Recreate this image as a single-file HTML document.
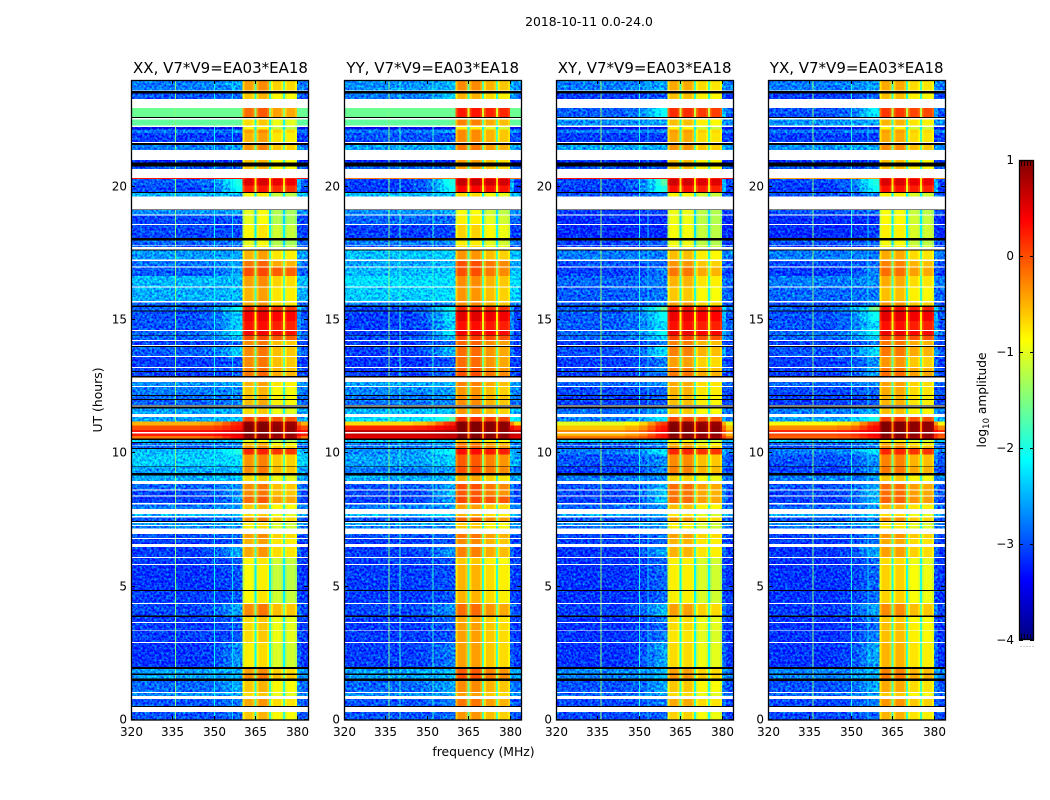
<!DOCTYPE html>
<html><head><meta charset="utf-8"><title>2018-10-11 dynamic spectra</title>
<style>
html,body{margin:0;padding:0;background:#fff}
svg{display:block}
text{font-family:"DejaVu Sans","Liberation Sans",sans-serif;fill:#000}
</style></head>
<body>
<svg id="chart" width="1050" height="800" viewBox="0 0 1050 800" xmlns="http://www.w3.org/2000/svg">
<defs>
<filter id="speckle" x="0" y="0" width="100%" height="100%" color-interpolation-filters="sRGB">
<feTurbulence type="fractalNoise" baseFrequency="0.42" numOctaves="2" seed="7" result="n"/>
<feColorMatrix in="n" type="matrix" values="0 0 0 0 .5  1 0 0 0 0  0 0 0 0 .5  0 0 0 0 1" result="g"/>
<feComposite in="SourceGraphic" in2="g" operator="arithmetic" k1="0" k2="1" k3="1.4" k4="-0.7" result="m"/>
<feComposite in="m" in2="SourceAlpha" operator="in"/>
</filter>
</defs>
<text x="589" y="26" font-size="12.4" text-anchor="middle">2018-10-11 0.0-24.0</text>
<text x="483.5" y="756" font-size="12.4" text-anchor="middle">frequency (MHz)</text>
<text transform="translate(102,400) rotate(-90)" font-size="12.4" text-anchor="middle">UT (hours)</text>
<text transform="translate(986,400) rotate(-90)" font-size="12.2" text-anchor="middle">log<tspan font-size="8.5" dy="3">10</tspan><tspan dy="-3"> amplitude</tspan></text>
<g id="panels"></g>
<g id="cbar"></g>
</svg>
<script>
// UT hour ranges of every recorded band, top of the plot to the bottom
const bandRanges=[[23.61,24],[23.29,23.49],[22.62,22.95],[22.29,22.52],[22.14,22.23],[22.01,22.14],[21.68,22.01],[21.38,21.57],[20.90,21.00],[20.66,20.76],
[20.29,20.33],[20.05,20.29],[19.80,20.05],[19.64,19.76],[18.95,19.13],[18.60,18.91],[18.08,18.56],[17.82,17.99],[17.73,17.79],[17.26,17.60],
[17.01,17.22],[16.65,16.97],[16.26,16.65],[15.71,16.22],[15.54,15.66],[15.35,15.48],[14.97,15.31],[14.63,14.97],[14.44,14.59],[14.25,14.41],
[14.06,14.21],[13.65,13.98],[13.24,13.61],[13.09,13.20],[12.90,13.05],[12.53,12.68],[12.19,12.49],[12.04,12.15],[11.82,12.00],[11.48,11.69],
[11.20,11.36],[11.04,11.20],[10.88,11.04],[10.80,10.88],[10.65,10.75],[10.56,10.65],[10.43,10.50],[10.32,10.38],[10.20,10.29],[9.95,10.16],
[9.51,9.95],[9.26,9.49],[8.97,9.16],[8.65,8.85],[8.42,8.60],[8.13,8.38],[7.91,8.09],[7.65,7.73],[7.46,7.60],[7.31,7.39],
[7.19,7.28],[6.83,6.98],[6.60,6.79],[6.11,6.49],[5.85,6.08],[4.88,5.81],[4.39,4.84],[3.91,4.35],[3.68,3.87],[3.36,3.64],
[2.93,3.33],[1.99,2.89],[1.75,1.91],[1.55,1.69],[1.05,1.47],[0.90,1.01],[0.53,0.79],[0,0.30]];
// Black (zero amplitude) UT ranges, common to all panels
const blackBands=[[23.49,23.58],[22.58,22.62],[21.57,21.64],[20.76,20.90],[19.76,19.80],[19.13,19.15],[17.99,18.08],[17.60,17.64],[15.48,15.54],[15.31,15.35],
[14.41,14.44],[13.98,14.03],[13.05,13.09],[12.85,12.90],[12.15,12.19],[12.00,12.04],[11.69,11.76],[11.80,11.82],[10.50,10.56],[10.38,10.43],
[10.16,10.20],[9.49,9.51],[9.16,9.26],[7.43,7.46],[4.84,4.88],[3.87,3.91],[1.91,1.99],[1.69,1.75],[1.47,1.55],[0.49,0.53]];
// log10 amplitude per band: [background 320-345 MHz, shoulder 356-360 MHz, band-pass blocks]
const xxLevels=[[-2.6,-2.4,-.4],[-2.8,-2.7,-.6],[-1.6,-1.6,-.15],[-1.65,-1.65,-.7],[-3.3,-3.3,-.9],[-2.6,-2.5,-.4],[-2.9,-2.9,-.5],[-2.6,-2.5,-.35],[-3,-3,-.6],[-2.8,-2.8,-.6],
[.3,.3,.3],[-2.75,-1.8,.55],[-2.85,-1.9,.25],[-2.3,-2.3,-.9],[-2.5,-2.4,-1],[-2.85,-2.8,-1],[-2.85,-2.85,-.85],[-2.7,-2.6,-1],[-2.8,-2.8,-.9],[-2.45,-2.4,-.5],
[-2.6,-2.4,-.2],[-2.75,-2.4,0],[-2.3,-2.3,-.4],[-2.35,-2.3,-.5],[-2.7,-2.6,-.45],[-2.7,-1.9,.2],[-2.8,-2.2,.45],[-2.8,-2.2,.3],[-2.7,-2,.4],[-2.7,-2.3,0],
[-2.9,-2.7,-.3],[-2.75,-2.2,-.3],[-2.9,-2.8,-.3],[-2.85,-2.7,-.25],[-2.9,-2.8,-.2],[-2.5,-2.4,-.5],[-2.6,-2.5,-.6],[-2.7,-2.6,-.55],[-2.7,-2.6,-.55],[-2.4,-2.35,-.7],
[-2.4,-2.2,.05],[-.5,.2,.95],[0,.3,1],[.3,.6,1],[.25,.5,1],[-.2,.4,.9],[-2.2,-2.2,-1],[-2.6,-2.5,-.6],[-2.7,-2.6,-.4],[-2.3,-1.8,.2],
[-2.2,-2.1,-.35],[-2.4,-2.3,-.3],[-2.35,-2.3,-.7],[-2.7,-2.5,-.3],[-2.85,-2.5,-.3],[-2.9,-2.5,-.15],[-2.6,-2.5,-.6],[-2.3,-2.2,-.7],[-2.8,-2.6,-.35],[-2.4,-2.3,-.8],
[-2.6,-2.5,-.8],[-2.8,-2.7,-.4],[-2.9,-2.8,-.5],[-2.9,-2.4,-.45],[-2.9,-2.8,-.85],[-2.95,-2.8,-.9],[-2.9,-2.8,-.85],[-2.85,-2.4,-.3],[-2.9,-2.7,-.7],[-2.9,-2.8,-.7],
[-2.9,-2.8,-.7],[-2.95,-2.5,-.8],[-2.4,-2.3,-.4],[-2.4,-2.3,-.3],[-2.7,-2.4,-.6],[-2.5,-2.4,-.7],[-2.8,-2.6,-.45],[-2.8,-2.7,-.6]];
const yyLevels=[[-2.5,-2.3,-.4],[-2.6,-2.2,-.6],[-1.6,-1.6,.25],[-1.65,-1.65,-.35],[-3.3,-3.3,-.9],[-2.6,-2.4,-.4],[-2.8,-2.8,-.4],[-2.4,-2.3,-.3],[-3,-3,-.5],[-2.7,-2.7,-.5],
[-.2,-.2,.3],[-2.9,-1.8,.65],[-2.9,-1.9,.35],[-2.3,-2.3,-.8],[-2.5,-2.4,-1],[-2.7,-2.7,-.9],[-2.9,-2.85,-.75],[-2.6,-2.5,-.9],[-2.8,-2.8,-.8],[-2.25,-2.2,-.45],
[-2.4,-2.3,-.1],[-2.3,-2.2,-.1],[-2.1,-2.1,-.4],[-2.2,-2.1,-.45],[-2.6,-2.5,-.4],[-2.85,-1.9,.2],[-2.9,-2.1,.5],[-2.9,-2.2,.3],[-2.9,-2,.4],[-2.85,-2.3,.05],
[-2.9,-2.7,-.2],[-2.9,-2.3,-.25],[-2.95,-2.8,-.25],[-2.9,-2.6,-.15],[-2.9,-2.7,-.1],[-2.4,-2.3,-.35],[-2.55,-2.4,-.45],[-2.65,-2.5,-.4],[-2.65,-2.5,-.4],[-2.3,-2.25,-.45],
[-2.1,-1.7,.1],[-.7,.2,1],[.2,.5,1],[.7,.8,1],[.6,.7,1],[.5,.6,.95],[-2.2,-2.2,-.7],[-2.6,-2.4,-.35],[-2.6,-2.5,-.2],[-2.5,-1.9,.3],
[-2.4,-2.2,-.15],[-2.6,-2.4,-.1],[-2.4,-2.3,-.55],[-2.8,-2.4,-.1],[-2.85,-2.3,-.15],[-2.9,-2.4,0],[-2.6,-2.5,-.5],[-2.3,-2.2,-.6],[-2.8,-2.6,-.2],[-2.4,-2.3,-.7],
[-2.6,-2.5,-.7],[-2.8,-2.7,-.3],[-2.9,-2.8,-.4],[-2.9,-2.5,-.35],[-2.9,-2.8,-.7],[-2.9,-2.8,-.6],[-2.9,-2.8,-.6],[-2.85,-2.5,-.25],[-2.9,-2.7,-.55],[-2.9,-2.8,-.5],
[-2.9,-2.8,-.5],[-2.9,-2.6,-.5],[-2.4,-2.3,-.15],[-2.4,-2.3,-.1],[-2.7,-2.4,-.4],[-2.5,-2.4,-.5],[-2.8,-2.6,-.3],[-2.8,-2.7,-.45]];
const xyLevels=[[-2.6,-2.4,-.5],[-2.9,-2.8,-.6],[-2.75,-1.9,.15],[-2.5,-2.4,-.6],[-3.3,-3.3,-.9],[-2.6,-2.5,-.45],[-2.9,-2.9,-.5],[-2.4,-2.35,-.4],[-3,-3,-.6],[-2.8,-2.8,-.6],
[.3,.3,.3],[-2.85,-1.7,.6],[-2.9,-1.8,.3],[-2.8,-2.6,-.9],[-2.9,-2.9,-1],[-3,-3,-1],[-3,-3,-.95],[-2.9,-2.7,-1],[-2.9,-2.8,-.9],[-2.6,-2.6,-.6],
[-2.8,-2.7,-.4],[-2.9,-2.6,-.25],[-2.7,-2.6,-.55],[-2.75,-2.6,-.65],[-2.8,-2.5,-.45],[-2.7,-1.6,.3],[-2.75,-1.9,.45],[-2.75,-2.1,.3],[-2.7,-1.9,.45],[-2.7,-2.2,.05],
[-2.9,-2.6,-.3],[-2.8,-2.1,-.3],[-2.9,-2.6,-.45],[-2.85,-2.5,-.3],[-2.9,-2.6,-.25],[-2.7,-2.5,-.5],[-2.85,-2.7,-.55],[-2.9,-2.8,-.6],[-2.9,-2.8,-.6],[-2.7,-2.4,-.65],
[-2.6,-2,0],[-1,.1,.95],[-.6,.3,1],[-.3,.4,1],[-.5,.3,1],[-.2,.3,.9],[-2.2,-2.2,-.9],[-2.7,-2.5,-.6],[-2.8,-2.6,-.4],[-2.6,-2,.2],
[-2.8,-2.5,-.35],[-2.9,-2.5,-.3],[-2.6,-2.5,-.7],[-2.8,-2.3,-.2],[-2.85,-2.2,-.25],[-2.9,-2.2,-.2],[-2.7,-2.5,-.6],[-2.4,-2.3,-.8],[-2.8,-2.6,-.45],[-2.5,-2.3,-.85],
[-2.7,-2.5,-.85],[-2.85,-2.6,-.45],[-2.9,-2.7,-.55],[-2.95,-2.4,-.55],[-2.95,-2.7,-.85],[-2.95,-2.7,-.85],[-2.95,-2.7,-.85],[-2.9,-2.3,-.45],[-2.95,-2.6,-.75],[-2.95,-2.7,-.75],
[-2.95,-2.6,-.8],[-2.95,-2.4,-.75],[-2.55,-2.3,-.45],[-2.55,-2.3,-.4],[-2.8,-2.4,-.65],[-2.7,-2.4,-.75],[-2.85,-2.6,-.5],[-2.85,-2.7,-.7]];
const yxLevels=[[-2.6,-2.4,-.5],[-2.9,-2.8,-.6],[-2.8,-2,.1],[-2.5,-2.4,-.55],[-3.3,-3.3,-.9],[-2.6,-2.5,-.45],[-2.9,-2.9,-.5],[-2.5,-2.4,-.35],[-3,-3,-.6],[-2.8,-2.8,-.6],
[-.4,-.4,.3],[-2.85,-1.8,.55],[-2.9,-1.9,.3],[-2.8,-2.6,-.85],[-2.8,-2.7,-.95],[-3,-3,-.9],[-3,-2.9,-.85],[-2.8,-2.7,-.95],[-2.9,-2.8,-.85],[-2.6,-2.6,-.5],
[-2.8,-2.7,-.3],[-2.9,-2.6,-.2],[-2.6,-2.5,-.5],[-2.7,-2.6,-.6],[-2.8,-2.5,-.4],[-2.7,-1.5,.3],[-2.8,-1.9,.5],[-2.8,-2.1,.3],[-2.7,-1.9,.45],[-2.7,-2.2,.05],
[-2.9,-2.6,-.25],[-2.8,-2.1,-.25],[-2.9,-2.5,-.4],[-2.85,-2.4,-.25],[-2.9,-2.5,-.2],[-2.7,-2.5,-.45],[-2.85,-2.7,-.5],[-2.9,-2.8,-.55],[-2.9,-2.8,-.55],[-2.6,-2.4,-.6],
[-2.4,-1.8,.05],[-.9,.15,1],[-.3,.35,1],[.2,.5,1],[0,.4,1],[-.1,.3,.9],[-2.2,-2.2,-.85],[-2.7,-2.5,-.55],[-2.8,-2.6,-.35],[-2.6,-2,.2],
[-2.8,-2.5,-.3],[-2.9,-2.5,-.25],[-2.6,-2.5,-.65],[-2.8,-2.4,-.2],[-2.85,-2.3,-.2],[-2.9,-2.3,-.15],[-2.7,-2.5,-.55],[-2.4,-2.3,-.75],[-2.8,-2.6,-.4],[-2.5,-2.3,-.8],
[-2.7,-2.5,-.8],[-2.85,-2.6,-.4],[-2.9,-2.7,-.5],[-2.95,-2.4,-.45],[-2.95,-2.7,-.75],[-2.95,-2.7,-.7],[-2.95,-2.7,-.7],[-2.9,-2.4,-.35],[-2.95,-2.6,-.65],[-2.95,-2.7,-.6],
[-2.95,-2.6,-.6],[-2.95,-2.4,-.55],[-2.55,-2.3,-.3],[-2.55,-2.3,-.25],[-2.8,-2.4,-.5],[-2.7,-2.4,-.65],[-2.85,-2.6,-.4],[-2.85,-2.7,-.55]];
// Relative level of the four band-pass blocks per panel
const xxBlockTilt=[0,.1,-.25,-.3];
const yyBlockTilt=[.1,.1,-.1,-.2];
const xyBlockTilt=[.05,.05,-.2,-.25];
const yxBlockTilt=[.05,.05,-.2,-.25];
// Narrow interference channels per panel: [MHz, log10 amplitude]
const xxRfi=[[335.9,-1.5],[350,-2.1],[356.5,-2.3]];
const yyRfi=[[336,-1.5],[340,-1.9],[352,-1.9]];
const xyRfi=[[336,-1.4],[350,-2],[353,-2.4]];
const yxRfi=[[336,-1.5],[350,-2],[356,-2.3]];
const panelTitles=["XX, V7*V9=EA03*EA18","YY, V7*V9=EA03*EA18","XY, V7*V9=EA03*EA18","YX, V7*V9=EA03*EA18"];
const panelKeys=["xx","yy","xy","yx"];
const xTicks=[320,335,350,365,380];
const yTicks=[0,5,10,15,20];
const colorTicks=[1,0,-1,-2,-3,-4];

const NS="http://www.w3.org/2000/svg";
const panelLevels=[xxLevels,yyLevels,xyLevels,yxLevels];
const panelTilts=[xxBlockTilt,yyBlockTilt,xyBlockTilt,yxBlockTilt];
const panelRfi=[xxRfi,yyRfi,xyRfi,yxRfi];
const panelLefts=[131,344,556,768];
const PW=177,PT=80,PB=720,FMIN=320,FMAX=384,UTMAX=24,BG_BIAS=-.18;
const xScale=(left,f)=>left+(f-FMIN)/(FMAX-FMIN)*PW;
const yScale=h=>PB-h/UTMAX*(PB-PT);
function jet(v){
  const t=Math.min(1,Math.max(0,(v+4)/5));
  const c=f=>Math.round(255*Math.min(1,Math.max(0,f)));
  return `rgb(${c(Math.min(4*t-1.5,-4*t+4.5))},${c(Math.min(4*t-.5,-4*t+3.5))},${c(Math.min(4*t+.5,-4*t+2.5))})`;
}
function mk(tag,attrs,parent){
  const el=document.createElementNS(NS,tag);
  for(const k in attrs)el.setAttribute(k,attrs[k]);
  parent.appendChild(el);
  return el;
}
// Spectral bins: [start MHz, end MHz, role, weight]
const spectralBins=[
[320,345,'bg',0],[345,350,'bg',.12],[350,353,'bg',.3],[353,356,'bg',.6],[356,358,'bg',.9],[358,360.4,'bg',1],
[360.4,361.1,'blk0',-.3],[361.1,364,'blk0',0],[364,364.65,'blk0',-.15],[364.65,365.4,'gap',0],
[365.4,366.1,'blk1',-.25],[366.1,369.2,'blk1',0],[369.2,369.9,'blk1',-.15],[369.9,370.6,'gap',0],
[370.6,371.3,'blk2',-.25],[371.3,374.2,'blk2',0],[374.2,374.9,'blk2',-.15],[374.9,375.6,'gap',0],
[375.6,376.3,'blk3',-.25],[376.3,379.3,'blk3',0],[379.3,380,'blk3',-.15],
[380,381.5,'edge',0],[381.5,384,'bg',0]];
const root=document.getElementById('panels');
panelKeys.forEach((key,p)=>{
  const left=panelLefts[p],levels=panelLevels[p],tilt=panelTilts[p],rfi=panelRfi[p];
  const g=mk('g',{},root);
  
  
  const noisy=mk('g',{'shape-rendering':'crispEdges',filter:'url(#speckle)'},g);
  const cells=mk('g',{'shape-rendering':'crispEdges'},g);
  bandRanges.forEach((band,i)=>{
    const [bg,mid,blk]=levels[i];
    const y0=yScale(band[1]),y1=yScale(band[0]);
    spectralBins.forEach(bin=>{
      let v,host=cells;
      if(bin[2]==='bg'){v=bg+(mid-bg)*bin[3];}
      else if(bin[2]==='gap')v=blk-1.3;
      else if(bin[2]==='edge')v=(bg+mid)/2;
      else v=blk+tilt[+bin[2].slice(3)]*(blk<0?1:.3)+bin[3];
      if(v<-1.7&&bin[2]!=='gap')v+=BG_BIAS;
      if(v<-2.1&&bin[2]!=='gap')host=noisy;
      const r=mk('rect',{x:xScale(left,bin[0]),y:y0,width:xScale(left,bin[1])-xScale(left,bin[0]),height:y1-y0,fill:jet(v)},host);
      
      
    });
    rfi.forEach(ch=>{
      if(bg>ch[1])return;
      const r=mk('rect',{x:xScale(left,ch[0]),y:y0,width:1,height:y1-y0,fill:jet(ch[1])},cells);
      
      
    });
  });
  blackBands.forEach(b=>{
    const r=mk('rect',{x:left,y:yScale(b[1]),width:PW,height:yScale(b[0])-yScale(b[1]),fill:'#000'},cells);
    
    
  });
  const frame=mk('rect',{x:left+.5,y:PT+.5,width:PW,height:PB-PT-.5,fill:'none',stroke:'#000','stroke-width':1.3},g);
  
  
  const title=mk('text',{x:left+PW/2+(p===0?1:.2),y:73,'font-size':15,'text-anchor':'middle'},g);
  title.textContent=panelTitles[p];
  
  
  xTicks.forEach(t=>{
    const x=Math.round(xScale(left,t))+.5;
    mk('path',{d:`M${x} ${PB}v-4M${x} ${PT}v4`,stroke:'#000','stroke-width':1},g);
    const l=mk('text',{x:x,y:736,'font-size':12,'text-anchor':'middle'},g);
    l.textContent=t;
    
    
  });
  yTicks.forEach(t=>{
    const y=Math.round(yScale(t))-.5;
    mk('path',{d:`M${left} ${y}h4M${left+PW} ${y}h-4`,stroke:'#000','stroke-width':1},g);
    const l=mk('text',{x:left-4,y:y+4,'font-size':12,'text-anchor':'end'},g);
    l.textContent=t;
    
    
  });
});
// Colorbar
const cb=document.getElementById('cbar');
const CX=1019,CW=15,CT=160,CB=640;
const cbarY=v=>CB-(v+4)/5*(CB-CT);
for(let py=CT;py<CB;py++){
  const s=mk('rect',{x:CX,y:py,width:CW,height:1.2,fill:jet(1-(py-CT+.5)/(CB-CT)*5),'shape-rendering':'crispEdges'},cb);
  
  
}
const cf=mk('rect',{x:CX+.5,y:CT+.5,width:CW-1,height:CB-CT-1,fill:'none',stroke:'#000','stroke-width':1.3},cb);


colorTicks.forEach(t=>{
  const y=Math.round(cbarY(t))+.5;
  mk('path',{d:`M${CX} ${y}h4M${CX+CW} ${y}h-4`,stroke:'#000','stroke-width':1},cb);
  const l=mk('text',{x:CX-5,y:y+3.5,'font-size':12,'text-anchor':'end'},cb);
  l.textContent=t<0?'\u2212'+(-t):String(t);
  
  
});
for(let i=0;i<5;i++){
  const x=CX+2.5+i*3;
  mk('path',{d:`M${x} ${CT}v6M${x} ${CB}v-6`,stroke:'#000','stroke-width':.8},cb);
  mk('rect',{x:x-1,y:646,width:1,height:1,fill:'#999'},cb);
}
</script>
</body></html>
